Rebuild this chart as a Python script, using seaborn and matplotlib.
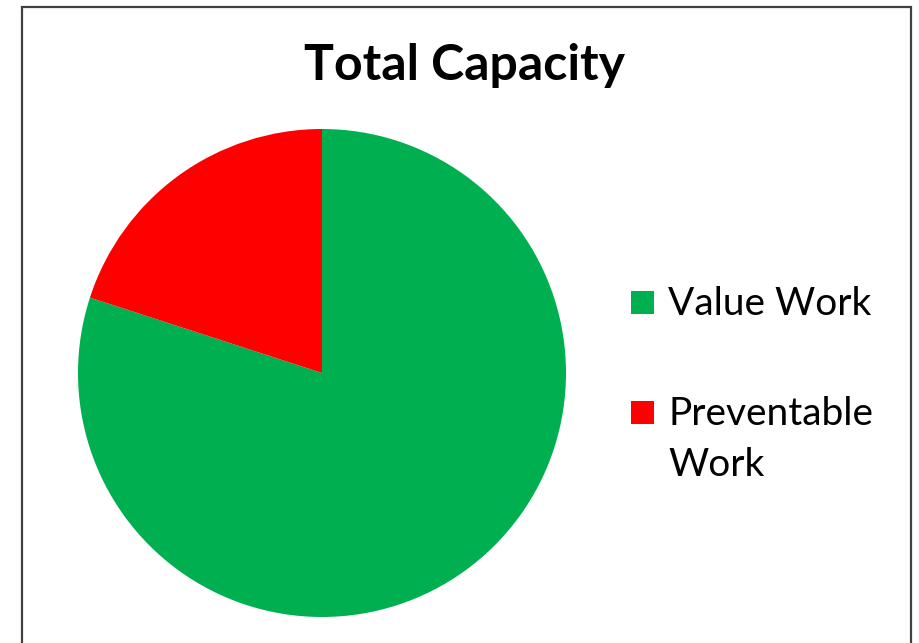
import matplotlib
matplotlib.use("Agg")
import matplotlib.pyplot as plt
import matplotlib.patches as mpatches
import seaborn as sns
import textwrap

sns.set_theme(style="white")
plt.rcParams['font.family'] = ['Lato', 'DejaVu Sans']

title = "Total Capacity"
categories = ["Value Work", "Preventable Work"]
values = [80, 20]
colors = ["#00B050", "#FF0000"]

W, H = 919, 643
fig = plt.figure(figsize=(W / 100, H / 100), dpi=100)
fig.patch.set_facecolor("white")

# pie axes placed in pixel geometry
cx, cy, r = 322, 373, 244
ax = fig.add_axes([(cx - r) / W, (H - cy - r) / H, 2 * r / W, 2 * r / H])
wedges, _ = ax.pie(values, colors=colors, startangle=90, counterclock=False,
                   radius=1.0, wedgeprops=dict(linewidth=0))
ax.set_xlim(-1, 1)
ax.set_ylim(-1, 1)
ax.set_aspect("equal")
ax.axis("off")

fig.text(465 / W, 1 - 80 / H, title, ha="center", va="baseline",
         fontsize=36, fontweight="bold", color="black")

# legend (manual layout so that the swatch aligns with the first line)
fs = 28
entry_baselines = [315, 425]
line_step = 51
for cat, col, base in zip(categories, colors, entry_baselines):
    fig.add_artist(mpatches.Rectangle((631 / W, 1 - (base - 1) / H), 23 / W, 23 / H,
                                      transform=fig.transFigure, facecolor=col,
                                      edgecolor="none"))
    for k, line in enumerate(textwrap.wrap(cat, 12)):
        fig.text(668 / W, 1 - (base + k * line_step) / H, line, ha="left",
                 va="baseline", fontsize=fs, color="black")

# outer frame
fig.add_artist(mpatches.Rectangle((21.5 / W, -0.1), (911 - 21.5) / W, 1.1 - 7 / H,
                                  transform=fig.transFigure, fill=False,
                                  edgecolor="#404040", linewidth=1.6))

fig.savefig("out.png", dpi=100)
